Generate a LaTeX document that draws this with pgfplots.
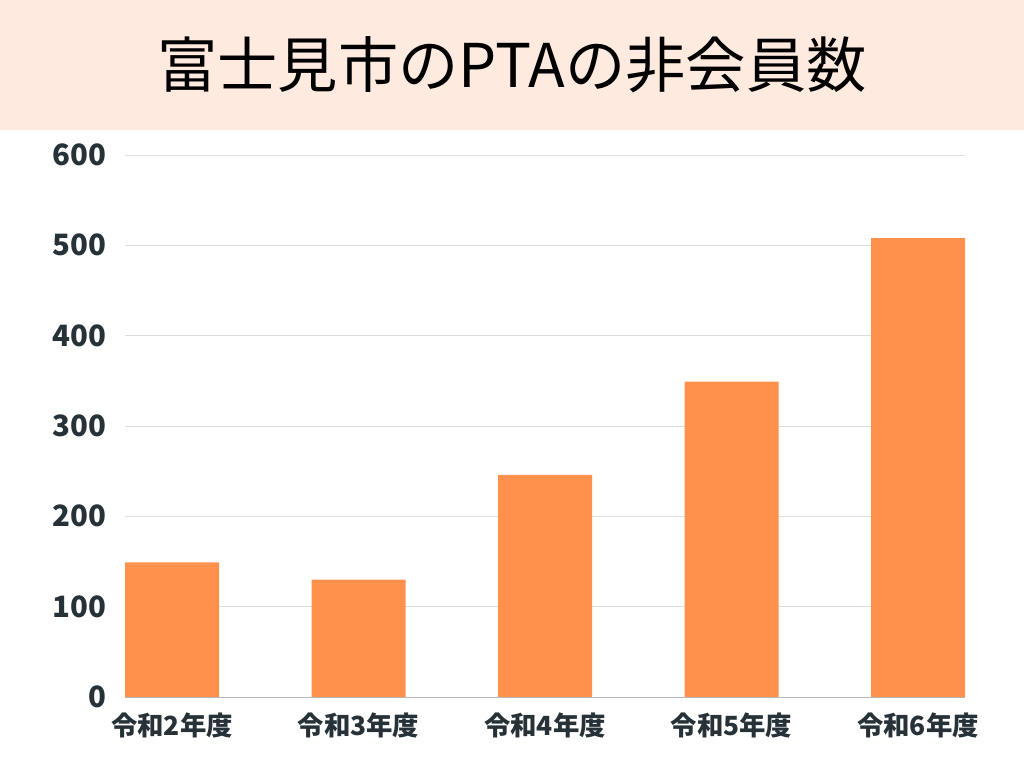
\documentclass[border=0pt]{standalone}
\usepackage{pgfplots}
\pgfplotsset{compat=1.18}
\usepackage{fontspec}
\setmainfont{Noto Sans CJK JP}
\definecolor{band}{HTML}{FFEAE0}
\definecolor{bar}{HTML}{FF914D}
\definecolor{lab}{HTML}{263238}
\begin{document}
\begin{tikzpicture}[x=1bp,y=1bp]
\fill[white] (0,0) rectangle (1024,768);
\fill[band] (0,638) rectangle (1024,768);
\node[font=\fontsize{60.5}{63}\selectfont, text=black] at (512,703) {富士見市のPTAの非会員数};
\begin{axis}[
  at={(125bp,71bp)}, anchor=south west,
  scale only axis, width=840bp, height=542bp,
  xmin=-0.252, xmax=4.252, ymin=0, ymax=600,
  ytick={0,100,...,600},
  xtick={0,1,2,3,4},
  xticklabels={令和2年度,令和3年度,令和4年度,令和5年度,令和6年度},
  axis x line=bottom, axis y line=left,
  y axis line style={draw=none},
  x axis line style={draw=black!28, -},
  major tick length=0pt,
  ymajorgrids, grid style={draw=black!13, line width=0.8bp},
  /pgf/number format/assume math mode=true,
  yticklabel style={font=\fontsize{29.5}{31}\selectfont\bfseries, text=lab, anchor=east, xshift=-15bp},
  xticklabel style={font=\fontsize{26.5}{28}\selectfont\bfseries, text=lab, anchor=north, yshift=-12bp},
]
\addplot[ybar, bar width=94bp, fill=bar, draw=none] coordinates {
(0,149) (1,130) (2,246) (3,349) (4,508)
};
\end{axis}
\end{tikzpicture}
\end{document}
